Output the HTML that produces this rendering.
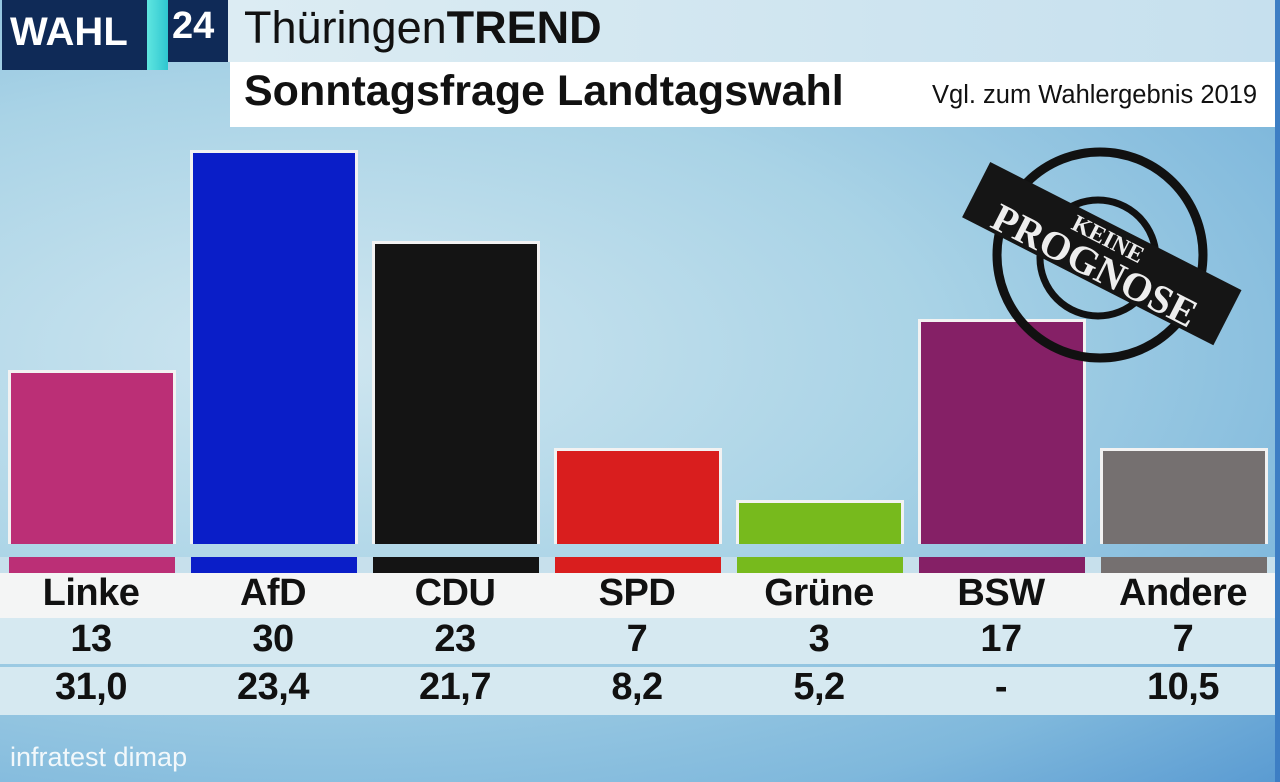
<!DOCTYPE html>
<html><head><meta charset="utf-8"><style>
body{margin:0;width:1280px;height:782px;overflow:hidden;font-family:"Liberation Sans",sans-serif;}
#bg{position:absolute;left:0;top:0;width:1280px;height:782px;background:radial-gradient(ellipse at 25% 45%,#cfe6f0 0%,#a9d3e6 45%,#7fb8dc 80%,#5a9bd2 100%);}
.a{position:absolute}
.bar{position:absolute;width:162px;border:3px solid #f2f2f2;border-bottom:none;}
.strip{position:absolute;top:557px;height:16px;width:166px}
.t{position:absolute;width:182px;text-align:center;font-weight:bold;color:#111;font-size:38px;letter-spacing:-0.5px}
</style></head><body>
<div id="bg"></div>
<div class="a" style="left:2px;top:0;width:146px;height:70px;background:#0f2a57"></div>
<div class="a" style="left:147px;top:0;width:21px;height:70px;background:linear-gradient(90deg,#5fe6e0,#2fc6d0)"></div>
<div class="a" style="left:168px;top:0;width:60px;height:62px;background:#0f2a57"></div>
<div class="a" style="left:10px;top:10px;color:#fff;font-size:40px;font-weight:bold">WAHL</div>
<div class="a" style="left:172px;top:5px;color:#fff;font-size:38px;font-weight:bold">24</div>
<div class="a" style="left:228px;top:0;width:1047px;height:62px;background:linear-gradient(90deg,#dcecf3,#c6e0ee)"></div>
<div class="a" style="left:244px;top:2px;font-size:45px;color:#111">Thüringen<b>TREND</b></div>
<div class="a" style="left:230px;top:62px;width:1045px;height:65px;background:#fff"></div>
<div class="a" style="left:244px;top:67px;font-size:43px;color:#111;font-weight:bold">Sonntagsfrage Landtagswahl</div>
<div class="a" style="left:932px;top:81px;font-size:25.5px;color:#111">Vgl. zum Wahlergebnis 2019</div>
<div class="a" style="left:1275px;top:0;width:5px;height:782px;background:#3d7ec4"></div>

<div class="bar" style="left:8px;top:370px;height:171px;background:#bb2f76"></div>
<div class="bar" style="left:190px;top:150px;height:391px;background:#0a1ec8"></div>
<div class="bar" style="left:372px;top:241px;height:300px;background:#141414"></div>
<div class="bar" style="left:554px;top:448px;height:93px;background:#d91e1e"></div>
<div class="bar" style="left:736px;top:500px;height:41px;background:#77ba1d"></div>
<div class="bar" style="left:918px;top:319px;height:222px;background:#852066"></div>
<div class="bar" style="left:1100px;top:448px;height:93px;background:#757070"></div>

<svg class="a" style="left:950px;top:130px" width="300" height="250" viewBox="950 130 300 250">
<circle cx="1100" cy="255" r="103" fill="none" stroke="#111" stroke-width="9"/>
<circle cx="1098" cy="258" r="58" fill="none" stroke="#111" stroke-width="7"/>
<g transform="rotate(27 1100 255)">
<rect x="960" y="222" width="282" height="62" fill="#151515"/>
<text x="1100" y="245" text-anchor="middle" font-family="Liberation Serif" font-weight="bold" font-size="24" fill="#eee">KEINE</text>
<text x="1100" y="280" text-anchor="middle" font-family="Liberation Serif" font-weight="bold" font-size="40" fill="#eee">PROGNOSE</text>
</g></svg>

<div class="a" style="left:0;top:557px;width:1275px;height:61px;background:#f4f5f5"></div>
<div class="a" style="left:0;top:618px;width:1275px;height:46px;background:#d6e9f1"></div>
<div class="a" style="left:0;top:667px;width:1275px;height:48px;background:#d6e9f1"></div>
<div class="a" style="left:0;top:557px;width:1275px;height:16px;background:#c7e0ec"></div>
<div class="strip" style="left:9px;background:#bb2f76"></div>
<div class="strip" style="left:191px;background:#0a1ec8"></div>
<div class="strip" style="left:373px;background:#141414"></div>
<div class="strip" style="left:555px;background:#d91e1e"></div>
<div class="strip" style="left:737px;background:#77ba1d"></div>
<div class="strip" style="left:919px;background:#852066"></div>
<div class="strip" style="left:1101px;background:#757070"></div>

<div class="t" style="left:0;top:572px">Linke</div><div class="t" style="left:182px;top:572px">AfD</div><div class="t" style="left:364px;top:572px">CDU</div><div class="t" style="left:546px;top:572px">SPD</div><div class="t" style="left:728px;top:572px">Grüne</div><div class="t" style="left:910px;top:572px">BSW</div><div class="t" style="left:1092px;top:572px">Andere</div>
<div class="t" style="left:0;top:618px">13</div><div class="t" style="left:182px;top:618px">30</div><div class="t" style="left:364px;top:618px">23</div><div class="t" style="left:546px;top:618px">7</div><div class="t" style="left:728px;top:618px">3</div><div class="t" style="left:910px;top:618px">17</div><div class="t" style="left:1092px;top:618px">7</div>
<div class="t" style="left:0;top:666px">31,0</div><div class="t" style="left:182px;top:666px">23,4</div><div class="t" style="left:364px;top:666px">21,7</div><div class="t" style="left:546px;top:666px">8,2</div><div class="t" style="left:728px;top:666px">5,2</div><div class="t" style="left:910px;top:666px">-</div><div class="t" style="left:1092px;top:666px">10,5</div>
<div class="a" style="left:10px;top:742px;color:#f2f8fb;font-size:27px">infratest dimap</div>
</body></html>
